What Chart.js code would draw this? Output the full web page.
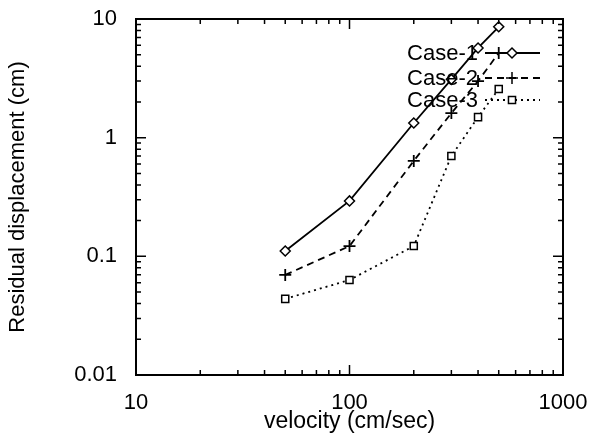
<!DOCTYPE html>
<html>
<head>
<meta charset="utf-8">
<script src="https://cdn.jsdelivr.net/npm/chart.js@4.4.1/dist/chart.umd.min.js"></script>
<style>
  html, body { margin: 0; padding: 0; background: #fff; }
  #wrap { width: 592px; height: 438px; }
</style>
</head>
<body>
<div id="wrap"><canvas id="chart1"></canvas></div>
<script>
// data
var velocity = [50, 100, 200, 300, 400, 500];
var case1 = [0.111, 0.293, 1.33, 3.1, 5.7, 8.6];
var case2 = [0.0697, 0.122, 0.637, 1.61, 3.0, 5.17];
var case3 = [0.0438, 0.0632, 0.122, 0.70, 1.49, 2.57];
var caseNames = ['Case-1', 'Case-2', 'Case-3'];

var xTicks = [10, 100, 1000];
var yTicks = [0.01, 0.1, 1, 10];

function pts(ys) {
	return velocity.map(function (v, i) { return { x: v, y: ys[i] }; });
}

function minorTicks(majors) {
	var out = [];
	for (var i = 0; i < majors.length - 1; i++) {
		for (var k = 2; k <= 9; k++) out.push(majors[i] * k);
	}
	return out;
}

var FONT = 'Liberation Sans, Arial, Helvetica, sans-serif';

// frame + inward ticks, gnuplot style
var framePlugin = {
	id: 'frame',
	afterDraw: function (chart) {
		var ctx = chart.ctx, a = chart.chartArea;
		var xs = chart.scales.x, ys = chart.scales.y;
		ctx.save();
		ctx.strokeStyle = '#000';
		ctx.lineWidth = 1.5;
		ctx.beginPath();
		xTicks.forEach(function (t) {
			var p = xs.getPixelForValue(t);
			ctx.moveTo(p, a.bottom); ctx.lineTo(p, a.bottom - 10);
			ctx.moveTo(p, a.top); ctx.lineTo(p, a.top + 10);
		});
		minorTicks(xTicks).forEach(function (t) {
			var p = xs.getPixelForValue(t);
			ctx.moveTo(p, a.bottom); ctx.lineTo(p, a.bottom - 5);
			ctx.moveTo(p, a.top); ctx.lineTo(p, a.top + 5);
		});
		yTicks.forEach(function (t) {
			var p = ys.getPixelForValue(t);
			ctx.moveTo(a.left, p); ctx.lineTo(a.left + 10, p);
			ctx.moveTo(a.right, p); ctx.lineTo(a.right - 10, p);
		});
		minorTicks(yTicks).forEach(function (t) {
			var p = ys.getPixelForValue(t);
			ctx.moveTo(a.left, p); ctx.lineTo(a.left + 5, p);
			ctx.moveTo(a.right, p); ctx.lineTo(a.right - 5, p);
		});
		ctx.stroke();
		ctx.lineWidth = 2;
		ctx.strokeRect(a.left, a.top, a.right - a.left, a.bottom - a.top);
		ctx.restore();
	}
};

// key in the top right corner, text right aligned, sample line with marker
var keyPlugin = {
	id: 'key',
	afterDatasetsDraw: function (chart) {
		var ctx = chart.ctx;
		var rows = [53, 78, 100];
		ctx.save();
		chart.data.datasets.forEach(function (ds, i) {
			var y = rows[i];
			ctx.fillStyle = '#000';
			ctx.font = '22px ' + FONT;
			ctx.textAlign = 'right';
			ctx.textBaseline = 'middle';
			ctx.fillText(ds.label, 478, y + 1);
			ctx.strokeStyle = '#000';
			ctx.lineWidth = ds.borderWidth;
			ctx.setLineDash(ds.borderDash || []);
			ctx.beginPath();
			ctx.moveTo(485, y); ctx.lineTo(540, y);
			ctx.stroke();
			ctx.setLineDash([]);
			ctx.lineWidth = 1.5;
			ctx.fillStyle = '#fff';
			Chart.helpers.drawPoint(ctx, {
				pointStyle: ds.pointStyle, radius: ds.pointRadius, borderWidth: 1.5, rotation: 0
			}, 512, y);
		});
		ctx.restore();
	}
};

var c1 = document.getElementById('chart1').getContext('2d');
var dispChart = new Chart(c1, {
	type: 'line',
	data: {
		datasets: [
			{
				label: caseNames[0],
				data: pts(case1),
				borderColor: '#000',
				borderWidth: 1.8,
				pointStyle: 'rectRot',
				pointRadius: 5,
				pointBorderWidth: 1.5,
				pointBackgroundColor: '#fff',
				pointBorderColor: '#000'
			},
			{
				label: caseNames[1],
				data: pts(case2),
				borderColor: '#000',
				borderWidth: 1.8,
				borderDash: [7, 5],
				pointStyle: 'cross',
				pointRadius: 6,
				pointBorderWidth: 1.8,
				pointBackgroundColor: '#fff',
				pointBorderColor: '#000'
			},
			{
				label: caseNames[2],
				data: pts(case3),
				borderColor: '#000',
				borderWidth: 1.8,
				borderDash: [2, 4],
				pointStyle: 'rect',
				pointRadius: 5,
				pointBorderWidth: 1.5,
				pointBackgroundColor: '#fff',
				pointBorderColor: '#000'
			}
		]
	},
	options: {
		responsive: true,
		maintainAspectRatio: false,
		animation: false,
		layout: { padding: { top: 19, right: 29, left: 0, bottom: 0 } },
		plugins: {
			legend: { display: false },
			tooltip: { enabled: false }
		},
		scales: {
			x: {
				type: 'logarithmic',
				min: 10,
				max: 1000,
				grid: { display: false },
				border: { display: false },
				afterBuildTicks: function (s) { s.ticks = xTicks.map(function (v) { return { value: v }; }); },
				afterFit: function (s) { s.height = 63; s.paddingLeft = 0; s.paddingRight = 0; },
				ticks: {
					color: '#000',
					padding: 7,
					maxRotation: 0,
					font: { family: FONT, size: 22 },
					callback: function (v) { return String(v); }
				},
				title: {
					display: true,
					text: 'velocity (cm/sec)',
					color: '#000',
					padding: { top: 0, bottom: 3 },
					font: { family: FONT, size: 23 }
				}
			},
			y: {
				type: 'logarithmic',
				min: 0.01,
				max: 10,
				grid: { display: false },
				border: { display: false },
				afterBuildTicks: function (s) { s.ticks = yTicks.map(function (v) { return { value: v }; }); },
				afterFit: function (s) { s.width = 136; s.paddingTop = 0; s.paddingBottom = 0; },
				ticks: {
					color: '#000',
					padding: 11,
					font: { family: FONT, size: 22 },
					callback: function (v) { return String(v); }
				},
				title: {
					display: true,
					text: 'Residual displacement (cm)',
					color: '#000',
					padding: { top: 5, bottom: 0 },
					font: { family: FONT, size: 22 }
				}
			}
		}
	},
	plugins: [framePlugin, keyPlugin]
});
</script>
</body>
</html>
